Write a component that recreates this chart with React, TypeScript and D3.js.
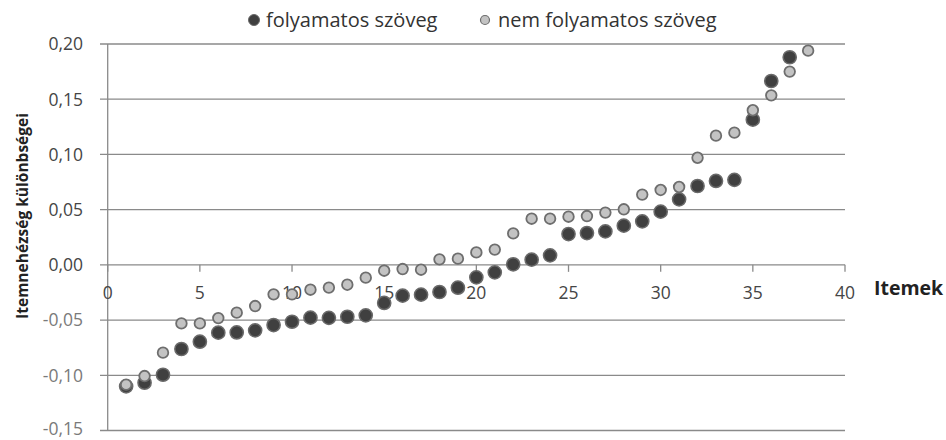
import React from "react";
import * as d3 from "d3";

const items = Array.from({ length: 38 }, (_, i) => i + 1);
const folyamatos = [
  -0.110, -0.1067, -0.0995, -0.0762, -0.0696, -0.0614, -0.0612, -0.0593, -0.0545, -0.0515,
  -0.0478, -0.048, -0.047, -0.0457, -0.0345, -0.0279, -0.027, -0.0246, -0.0207, -0.0113,
  -0.0068, 0.0005, 0.0047, 0.0086, 0.0279, 0.0288, 0.0303, 0.0355, 0.0394, 0.0482,
  0.0593, 0.0714, 0.076, 0.077, 0.1315, 0.1665, 0.188,
];
const nemFolyamatos = [
  -0.1085, -0.1007, -0.0795, -0.053, -0.053, -0.0482, -0.0433, -0.0373, -0.0267, -0.0267,
  -0.0225, -0.0206, -0.018, -0.0116, -0.0053, -0.0038, -0.0044, 0.005, 0.0056, 0.0113,
  0.0138, 0.0285, 0.0418, 0.0418, 0.0436, 0.0442, 0.0473, 0.0503, 0.0636, 0.0678,
  0.0705, 0.097, 0.117, 0.1197, 0.140, 0.1535, 0.175, 0.194,
];
const xTicks = [0, 5, 10, 15, 20, 25, 30, 35, 40];
const yTicks = [-0.15, -0.1, -0.05, 0, 0.05, 0.1, 0.15, 0.2];
const seriesNames = ["folyamatos szöveg", "nem folyamatos szöveg"];

const W = 946;
const H = 440;
const FONT = "'Open Sans', Lato, sans-serif";

export default function App() {
  const x = d3.scaleLinear().domain([0, 40]).range([107.7, 845]);
  const y = d3.scaleLinear().domain([-0.15, 0.2]).range([430.5, 44]);
  const fmt = (v: number) => d3.format(".2f")(v).replace(".", ",").replace("−", "-");

  return (
    <svg width={W} height={H} style={{ position: "absolute", left: 0, top: 0, background: "#fff" }}>
      {yTicks.map((t) => (
        <line key={"g" + t} x1={100} x2={x(40)} y1={y(t)} y2={y(t)} stroke="#8a8a8a" strokeWidth={1.3} />
      ))}
      <line x1={x(0)} x2={x(0)} y1={y(0.2)} y2={y(-0.15)} stroke="#8a8a8a" strokeWidth={1.3} />
      {xTicks.map((t) => (
        <line key={"xt" + t} x1={x(t)} x2={x(t)} y1={y(0)} y2={y(0) + 7} stroke="#8a8a8a" strokeWidth={1.3} />
      ))}
      {yTicks.map((t) => (
        <text key={"yl" + t} x={83} y={y(t)} dy={t === -0.15 ? "0.28em" : "0.36em"} textAnchor="end" fontFamily={FONT} fontSize={17.5}
          fill={t < 0 ? "#7a7a7a" : "#454545"}>
          {fmt(t)}
        </text>
      ))}
      {xTicks.map((t) => (
        <text key={"xl" + t} x={x(t)} y={y(0) + 34.5} textAnchor="middle" fontFamily={FONT} fontSize={17.5} fill="#454545">
          {t}
        </text>
      ))}
      {folyamatos.map((v, i) => (
        <circle key={"d" + i} cx={x(items[i])} cy={y(v)} r={6.6} fill="#404040" stroke="#6a6a6a" strokeWidth={1.5} />
      ))}
      {nemFolyamatos.map((v, i) => (
        <circle key={"l" + i} cx={x(items[i])} cy={y(v)} r={5.3} fill="#c3c3c3" stroke="#6e6e6e" strokeWidth={1.8} />
      ))}
      <text x={874} y={295} fontFamily={FONT} fontSize={19.5} fontWeight="bold" fill="#222">Itemek</text>
      <text
        transform={`translate(28, 216) rotate(-90)`}
        textAnchor="middle"
        fontFamily={FONT}
        fontSize={15.5}
        fontWeight="bold"
        fill="#222"
      >
        Itemnehézség különbségei
      </text>
      <circle cx={254} cy={20} r={5.5} fill="#404040" stroke="#6a6a6a" strokeWidth={1} />
      <text x={266} y={27} fontFamily={FONT} fontSize={20} fill="#333">{seriesNames[0]}</text>
      <circle cx={485} cy={20} r={4.5} fill="#c3c3c3" stroke="#6e6e6e" strokeWidth={1.2} />
      <text x={498} y={27} fontFamily={FONT} fontSize={20} fill="#333">{seriesNames[1]}</text>
    </svg>
  );
}
